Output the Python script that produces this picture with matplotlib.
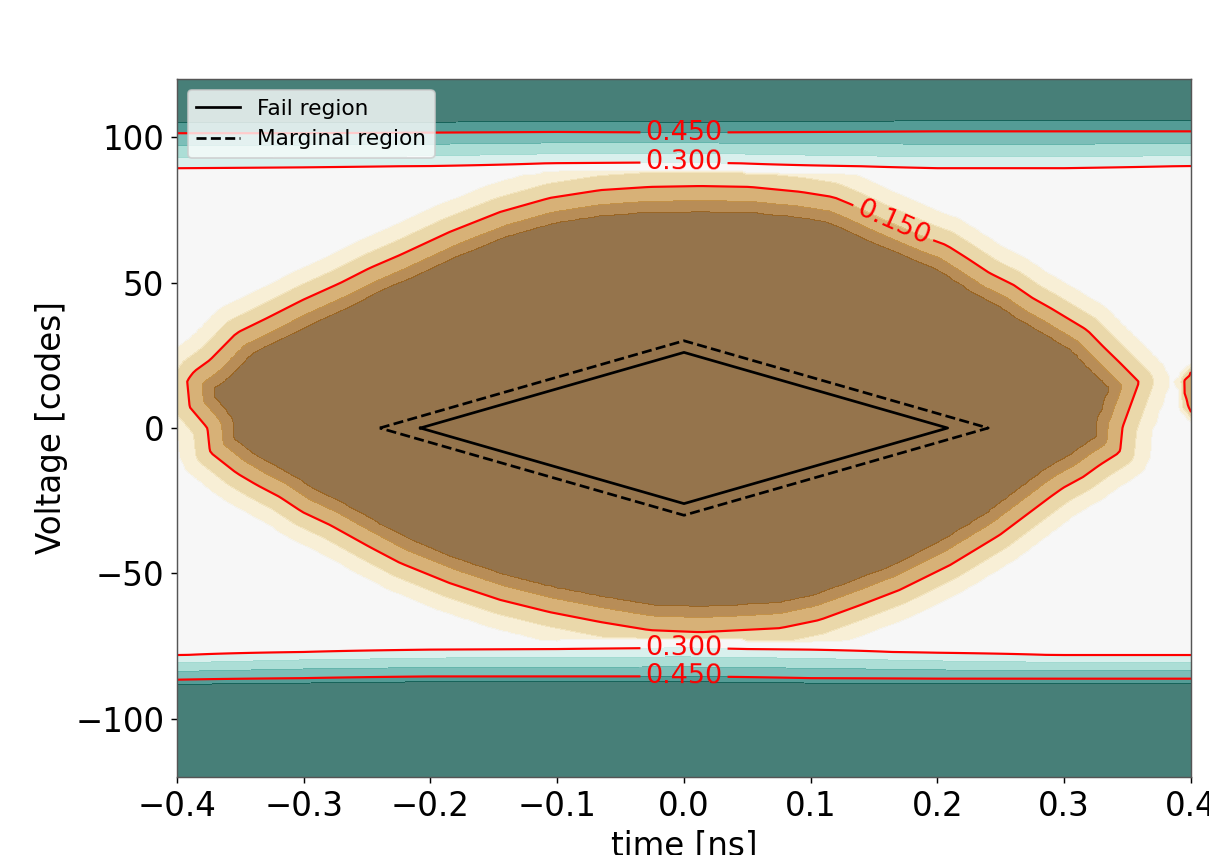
import numpy as np
import matplotlib
matplotlib.use("Agg")
import matplotlib.pyplot as plt
from matplotlib.path import Path

# ---------------- data ----------------
# 0.150 contour of the eye: upper edge (left tip -> right tip)
eye_upper_t = [-0.392, -0.387, -0.374, -0.353, -0.329, -0.301, -0.271, -0.248, -0.224,
               -0.185, -0.145, -0.106, -0.066, -0.027, 0.013, 0.052, 0.092, 0.118,
               0.133, 0.155, 0.192, 0.207, 0.223, 0.241, 0.260, 0.275, 0.289, 0.305,
               0.318, 0.331, 0.344, 0.359]
eye_upper_v = [16.2, 19.3, 23.4, 32.7, 37.8, 44.0, 49.9, 55.0, 59.5,
               67.4, 74.3, 79.1, 81.8, 82.9, 83.2, 82.9, 81.2, 79.4,
               76.7, 72.2, 65.3, 62.9, 58.5, 53.3, 49.2, 44.7, 41.3, 37.1,
               33.7, 27.9, 22.4, 15.8]
# lower edge (right tip -> left tip)
eye_lower_t = [0.346, 0.344, 0.328, 0.315, 0.299, 0.289, 0.249, 0.210, 0.170, 0.139,
               0.107, 0.076, 0.013, -0.027, -0.066, -0.106, -0.145, -0.185, -0.224,
               -0.248, -0.279, -0.301, -0.319, -0.337, -0.353, -0.374, -0.376, -0.390]
eye_lower_v = [0.3, -8.3, -12.7, -16.8, -20.6, -23.7, -36.8, -47.1, -55.7, -60.9,
               -66.0, -68.8, -70.2, -69.5, -66.7, -63.3, -59.1, -53.3, -46.4,
               -40.9, -33.4, -28.9, -23.7, -19.6, -15.5, -8.3, 0.0, 7.2]
next_eye_shift = 0.786          # next eye entering at the right edge [ns]

# value profile across the eye edge (distance in codes, + outward)
edge_offset = [-20.0, -8.6, -5.0, 0.0, 5.0, 10.0, 16.0]
edge_value = [0.0, 0.05, 0.10, 0.15, 0.20, 0.25, 0.27]
next_edge_offset = [-20.0, -8.6, -5.0, 0.0, 1.0, 2.0, 3.5]

# rail contour positions (0.300 and 0.450 lines) along time
rail_t = [-0.4, -0.3, -0.2, -0.1, 0.0, 0.1, 0.2, 0.3, 0.4]
upper_300 = [89.4, 89.7, 90.1, 91.1, 91.5, 90.4, 89.4, 89.4, 90.1]
upper_450 = [101.4, 101.4, 101.6, 101.8, 101.6, 101.8, 102.0, 102.0, 102.0]
lower_300 = [-78.1, -77.0, -76.3, -76.0, -75.7, -76.3, -77.4, -78.1, -78.1]
lower_450 = [-86.7, -86.0, -85.6, -85.6, -85.6, -86.0, -86.3, -86.3, -86.3]
plateau_value = 0.27
rail_values = [0.27, 0.30, 0.35, 0.40, 0.45, 0.50, 0.53]

# fail / marginal masks
fail_t = [-0.208, 0.0, 0.208, 0.0, -0.208]
fail_v = [0.0, 26.0, 0.0, -26.0, 0.0]
marg_t = [-0.240, 0.0, 0.240, 0.0, -0.240]
marg_v = [0.0, 30.0, 0.0, -30.0, 0.0]

fill_levels = [0.0, 0.05, 0.10, 0.15, 0.20, 0.25, 0.30, 0.35, 0.40, 0.45, 0.50, 0.55]
line_levels = [0.15, 0.30, 0.45]
label_pos = [(0.0, 101.6), (0.0, 91.5), (0.165, 70.5), (0.0, -75.8), (0.0, -85.8)]

# ---------------- build the field ----------------
T_SCALE = 1267.5 / 2.908   # codes per ns (equal pixel distance)
t = np.linspace(-0.4, 0.4, 161)
v = np.linspace(-120, 120, 241)
T, V = np.meshgrid(t, v)

poly = np.column_stack([np.r_[eye_upper_t, eye_lower_t],
                        np.r_[eye_upper_v, eye_lower_v]])


def signed_dist(poly_tv):
    P = np.column_stack([poly_tv[:, 0] * T_SCALE, poly_tv[:, 1]])
    X = T.ravel() * T_SCALE
    Y = V.ravel()
    d = np.full(X.shape, np.inf)
    for i in range(len(P)):
        a = P[i]
        b = P[(i + 1) % len(P)]
        ab = b - a
        L2 = ab @ ab
        u = np.clip(((X - a[0]) * ab[0] + (Y - a[1]) * ab[1]) / L2, 0, 1)
        dx = X - (a[0] + u * ab[0])
        dy = Y - (a[1] + u * ab[1])
        d = np.minimum(d, np.hypot(dx, dy))
    inside = Path(P).contains_points(np.column_stack([X, Y]))
    return np.where(inside, -d, d).reshape(T.shape)


sd1 = signed_dist(poly)
sd2 = signed_dist(poly + np.array([next_eye_shift, 0.0]))
z_eye = np.minimum(np.interp(sd1, edge_offset, edge_value),
                   np.interp(sd2, next_edge_offset, edge_value))

z_rail = np.full(T.shape, plateau_value)
for j, tj in enumerate(t):
    u30 = np.interp(tj, rail_t, upper_300)
    u45 = np.interp(tj, rail_t, upper_450)
    l30 = np.interp(tj, rail_t, lower_300)
    l45 = np.interp(tj, rail_t, lower_450)
    du = u45 - u30
    dl = l30 - l45
    up_x = [u30 - 3, u30, u30 + 0.3 * du, u30 + 0.65 * du, u45, u45 + 3.5, u45 + 7]
    lo_x = [l30 + 3, l30, l30 - 0.3 * dl, l30 - 0.65 * dl, l45, l45 - 1.5, l45 - 3.5]
    col_up = np.interp(v, up_x, rail_values)
    col_lo = np.interp(-v, [-x for x in lo_x], rail_values)
    z_rail[:, j] = np.maximum(col_up, col_lo)

Z = np.where(z_rail > plateau_value + 1e-9, np.maximum(z_rail, z_eye), z_eye)

# ---------------- plot ----------------
fig = plt.figure(figsize=(1209 / 130, 855 / 130), dpi=130)
ax = fig.add_axes([0.1464, 0.0912, 0.8387, 0.8164])

ax.contourf(T, V, Z, levels=fill_levels, cmap="BrBG", alpha=0.72)
cs = ax.contour(T, V, Z, levels=line_levels, colors="red", linewidths=1.2)
ax.clabel(cs, fmt="%1.3f", fontsize=15, colors="red", inline=True,
          manual=label_pos)

ax.plot(fail_t, fail_v, color="black", linestyle="-", linewidth=1.5,
        label="Fail region")
ax.plot(marg_t, marg_v, color="black", linestyle="--", linewidth=1.5,
        label="Marginal region")

ax.set_xlim(-0.4, 0.4)
ax.set_ylim(-120, 120)
ax.set_xticks(np.arange(-0.4, 0.41, 0.1))
ax.set_yticks([-100, -50, 0, 50, 100])
ax.tick_params(labelsize=18)
for s in ax.spines.values():
    s.set_color("#555555")
ax.set_xlabel("time [ns]", fontsize=18)
ax.set_ylabel("Voltage [codes]", fontsize=18)
ax.legend(loc="upper left", fontsize=12)

fig.savefig("out.png", dpi=130)
